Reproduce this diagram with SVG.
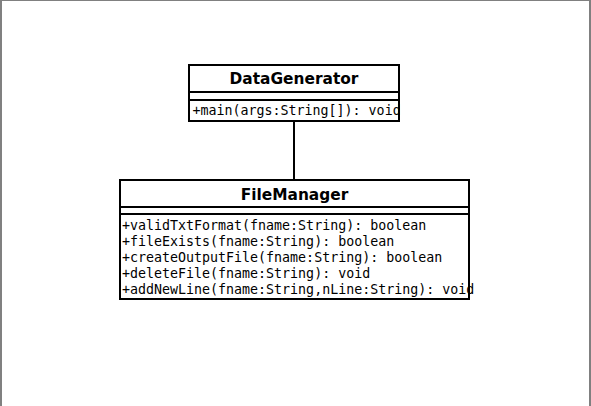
<svg xmlns="http://www.w3.org/2000/svg" width="591" height="406" viewBox="0 0 591 406">
  <style>
    .frame { fill: #808080; }
    .box { fill: none; stroke: #000; stroke-width: 2; }
    .bg { fill: #fff; }
    .sep { stroke: #000; stroke-width: 2; }
    .title { font-family: "DejaVu Sans", sans-serif; font-weight: bold; font-size: 15.4px; text-anchor: middle; fill: #000; }
    .op { font-family: "DejaVu Sans Mono", "Liberation Mono", monospace; font-size: 13.3px; fill: #000; }
    .conn { stroke: #000; stroke-width: 2; fill: none; }
  </style>
  <rect x="0" y="0" width="591" height="406" fill="#fff"/>
  <rect class="frame" x="0" y="0" width="591" height="1"/>
  <rect class="frame" x="0" y="0" width="2" height="406"/>
  <rect class="frame" x="589" y="0" width="2" height="406"/>

  <g id="connectors">
    <line class="conn" x1="294" y1="121" x2="294" y2="180"/>
  </g>

  <g id="DataGenerator">
    <rect class="bg" x="189" y="65" width="210" height="56"/>
    <text class="title" x="294" y="84">DataGenerator</text>
    <text class="op" x="192.5" y="115">+main(args:String[]): void</text>
    <line class="sep" x1="189" y1="92" x2="399" y2="92"/>
    <line class="sep" x1="189" y1="100" x2="399" y2="100"/>
    <rect class="box" x="189" y="65" width="210" height="56"/>
  </g>

  <g id="FileManager">
    <rect class="bg" x="120" y="180" width="349" height="119"/>
    <text class="title" x="294.5" y="200">FileManager</text>
    <text class="op" x="122" y="230">+validTxtFormat(fname:String): boolean</text>
    <text class="op" x="122" y="246">+fileExists(fname:String): boolean</text>
    <text class="op" x="122" y="262">+createOutputFile(fname:String): boolean</text>
    <text class="op" x="122" y="278">+deleteFile(fname:String): void</text>
    <line class="sep" x1="120" y1="207" x2="469" y2="207"/>
    <line class="sep" x1="120" y1="214" x2="469" y2="214"/>
    <rect class="box" x="120" y="180" width="349" height="119"/>
    <text class="op" x="122" y="294">+addNewLine(fname:String,nLine:String): void</text>
  </g>
</svg>
